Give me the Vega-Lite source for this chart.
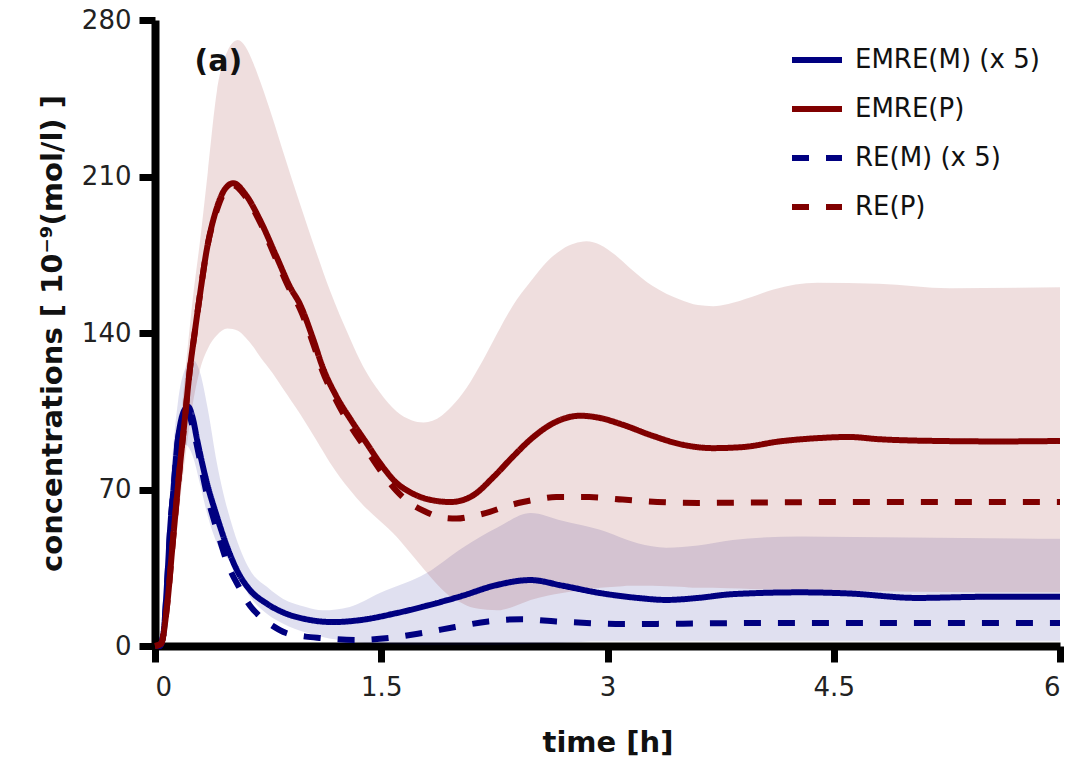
{
  "$schema": "https://vega.github.io/schema/vega-lite/v6.json",
  "autosize": "none",
  "width": 905,
  "height": 626,
  "padding": {"left": 155, "top": 20, "right": 14, "bottom": 127},
  "background": "white",
  "config": {
    "view": {"stroke": null},
    "axis": {
      "grid": false,
      "domainColor": "black",
      "domainWidth": 8,
      "tickColor": "black",
      "tickWidth": 7,
      "tickSize": 16,
      "labelFont": "DejaVu Sans",
      "labelFontSize": 26,
      "labelColor": "#222222",
      "titleFont": "DejaVu Sans",
      "titleFontSize": 29,
      "titleFontWeight": "bold",
      "titleColor": "#111111"
    },
    "legend": {
      "labelFont": "DejaVu Sans",
      "labelFontSize": 26,
      "labelColor": "#111111",
      "labelLimit": 400,
      "symbolType": "stroke",
      "symbolStrokeWidth": 6,
      "symbolSize": 2500,
      "rowPadding": 8,
      "labelOffset": 10
    }
  },
  "datasets": {
    "lines": [
      {"t":0,"v":0,"series":"EMRE(M) (x 5)"},{"t":0.03,"v":0,"series":"EMRE(M) (x 5)"},{"t":0.055,"v":5,"series":"EMRE(M) (x 5)"},{"t":0.08,"v":28,"series":"EMRE(M) (x 5)"},{"t":0.1,"v":52,"series":"EMRE(M) (x 5)"},{"t":0.125,"v":72,"series":"EMRE(M) (x 5)"},{"t":0.146,"v":89,"series":"EMRE(M) (x 5)"},{"t":0.17,"v":100,"series":"EMRE(M) (x 5)"},{"t":0.2,"v":106,"series":"EMRE(M) (x 5)"},{"t":0.22,"v":107,"series":"EMRE(M) (x 5)"},{"t":0.25,"v":102,"series":"EMRE(M) (x 5)"},{"t":0.28,"v":92,"series":"EMRE(M) (x 5)"},{"t":0.34,"v":74,"series":"EMRE(M) (x 5)"},{"t":0.41,"v":58,"series":"EMRE(M) (x 5)"},{"t":0.48,"v":44,"series":"EMRE(M) (x 5)"},{"t":0.55,"v":33,"series":"EMRE(M) (x 5)"},{"t":0.63,"v":25,"series":"EMRE(M) (x 5)"},{"t":0.74,"v":19,"series":"EMRE(M) (x 5)"},{"t":0.85,"v":15,"series":"EMRE(M) (x 5)"},{"t":1.0,"v":12,"series":"EMRE(M) (x 5)"},{"t":1.18,"v":10.7,"series":"EMRE(M) (x 5)"},{"t":1.35,"v":11.5,"series":"EMRE(M) (x 5)"},{"t":1.6,"v":14.7,"series":"EMRE(M) (x 5)"},{"t":1.8,"v":18,"series":"EMRE(M) (x 5)"},{"t":2.04,"v":22.5,"series":"EMRE(M) (x 5)"},{"t":2.25,"v":27,"series":"EMRE(M) (x 5)"},{"t":2.49,"v":29.5,"series":"EMRE(M) (x 5)"},{"t":2.7,"v":27,"series":"EMRE(M) (x 5)"},{"t":2.95,"v":23.7,"series":"EMRE(M) (x 5)"},{"t":3.2,"v":21.5,"series":"EMRE(M) (x 5)"},{"t":3.39,"v":20.6,"series":"EMRE(M) (x 5)"},{"t":3.6,"v":21.5,"series":"EMRE(M) (x 5)"},{"t":3.83,"v":23.2,"series":"EMRE(M) (x 5)"},{"t":4.28,"v":24,"series":"EMRE(M) (x 5)"},{"t":4.6,"v":23.5,"series":"EMRE(M) (x 5)"},{"t":5.05,"v":21.5,"series":"EMRE(M) (x 5)"},{"t":5.5,"v":22,"series":"EMRE(M) (x 5)"},{"t":6,"v":22,"series":"EMRE(M) (x 5)"},

      {"t":0,"v":0,"series":"RE(M) (x 5)"},{"t":0.03,"v":0,"series":"RE(M) (x 5)"},{"t":0.055,"v":5,"series":"RE(M) (x 5)"},{"t":0.08,"v":28,"series":"RE(M) (x 5)"},{"t":0.1,"v":52,"series":"RE(M) (x 5)"},{"t":0.125,"v":72,"series":"RE(M) (x 5)"},{"t":0.146,"v":89,"series":"RE(M) (x 5)"},{"t":0.17,"v":99,"series":"RE(M) (x 5)"},{"t":0.2,"v":104,"series":"RE(M) (x 5)"},{"t":0.22,"v":104,"series":"RE(M) (x 5)"},{"t":0.25,"v":98,"series":"RE(M) (x 5)"},{"t":0.28,"v":89,"series":"RE(M) (x 5)"},{"t":0.34,"v":69,"series":"RE(M) (x 5)"},{"t":0.41,"v":52,"series":"RE(M) (x 5)"},{"t":0.48,"v":37,"series":"RE(M) (x 5)"},{"t":0.56,"v":26,"series":"RE(M) (x 5)"},{"t":0.63,"v":18,"series":"RE(M) (x 5)"},{"t":0.7,"v":13,"series":"RE(M) (x 5)"},{"t":0.78,"v":9,"series":"RE(M) (x 5)"},{"t":0.87,"v":5.8,"series":"RE(M) (x 5)"},{"t":1.0,"v":4.2,"series":"RE(M) (x 5)"},{"t":1.09,"v":3.6,"series":"RE(M) (x 5)"},{"t":1.33,"v":2.7,"series":"RE(M) (x 5)"},{"t":1.55,"v":3.6,"series":"RE(M) (x 5)"},{"t":1.77,"v":5.8,"series":"RE(M) (x 5)"},{"t":1.99,"v":8.5,"series":"RE(M) (x 5)"},{"t":2.21,"v":11,"series":"RE(M) (x 5)"},{"t":2.43,"v":12,"series":"RE(M) (x 5)"},{"t":2.66,"v":11,"series":"RE(M) (x 5)"},{"t":2.9,"v":10.2,"series":"RE(M) (x 5)"},{"t":3.1,"v":9.8,"series":"RE(M) (x 5)"},{"t":3.5,"v":10,"series":"RE(M) (x 5)"},{"t":4,"v":10.3,"series":"RE(M) (x 5)"},{"t":5,"v":10.3,"series":"RE(M) (x 5)"},{"t":6,"v":10.3,"series":"RE(M) (x 5)"},

      {"t":0,"v":0,"series":"EMRE(P)"},{"t":0.04,"v":1,"series":"EMRE(P)"},{"t":0.08,"v":18,"series":"EMRE(P)"},{"t":0.12,"v":48,"series":"EMRE(P)"},{"t":0.16,"v":77,"series":"EMRE(P)"},{"t":0.2,"v":103,"series":"EMRE(P)"},{"t":0.23,"v":123,"series":"EMRE(P)"},{"t":0.265,"v":141,"series":"EMRE(P)"},{"t":0.3,"v":158,"series":"EMRE(P)"},{"t":0.34,"v":176,"series":"EMRE(P)"},{"t":0.41,"v":196,"series":"EMRE(P)"},{"t":0.46,"v":204,"series":"EMRE(P)"},{"t":0.52,"v":207,"series":"EMRE(P)"},{"t":0.6,"v":202,"series":"EMRE(P)"},{"t":0.7,"v":190,"series":"EMRE(P)"},{"t":0.8,"v":175,"series":"EMRE(P)"},{"t":0.9,"v":160,"series":"EMRE(P)"},{"t":0.96,"v":153,"series":"EMRE(P)"},{"t":1.05,"v":137,"series":"EMRE(P)"},{"t":1.11,"v":125,"series":"EMRE(P)"},{"t":1.2,"v":112,"series":"EMRE(P)"},{"t":1.3,"v":101,"series":"EMRE(P)"},{"t":1.4,"v":91,"series":"EMRE(P)"},{"t":1.49,"v":82,"series":"EMRE(P)"},{"t":1.6,"v":73,"series":"EMRE(P)"},{"t":1.7,"v":68.5,"series":"EMRE(P)"},{"t":1.8,"v":65.8,"series":"EMRE(P)"},{"t":1.96,"v":64.4,"series":"EMRE(P)"},{"t":2.1,"v":67,"series":"EMRE(P)"},{"t":2.25,"v":76,"series":"EMRE(P)"},{"t":2.37,"v":84.5,"series":"EMRE(P)"},{"t":2.5,"v":93,"series":"EMRE(P)"},{"t":2.65,"v":100,"series":"EMRE(P)"},{"t":2.82,"v":103,"series":"EMRE(P)"},{"t":2.95,"v":102,"series":"EMRE(P)"},{"t":3.1,"v":99,"series":"EMRE(P)"},{"t":3.3,"v":94,"series":"EMRE(P)"},{"t":3.5,"v":90,"series":"EMRE(P)"},{"t":3.7,"v":88.5,"series":"EMRE(P)"},{"t":3.9,"v":89,"series":"EMRE(P)"},{"t":4.14,"v":91.5,"series":"EMRE(P)"},{"t":4.4,"v":93,"series":"EMRE(P)"},{"t":4.6,"v":93.5,"series":"EMRE(P)"},{"t":4.8,"v":92.5,"series":"EMRE(P)"},{"t":5.2,"v":91.7,"series":"EMRE(P)"},{"t":5.6,"v":91.5,"series":"EMRE(P)"},{"t":6,"v":91.7,"series":"EMRE(P)"},

      {"t":0,"v":0,"series":"RE(P)"},{"t":0.04,"v":1,"series":"RE(P)"},{"t":0.08,"v":18,"series":"RE(P)"},{"t":0.12,"v":48,"series":"RE(P)"},{"t":0.16,"v":77,"series":"RE(P)"},{"t":0.2,"v":103,"series":"RE(P)"},{"t":0.23,"v":123,"series":"RE(P)"},{"t":0.265,"v":141,"series":"RE(P)"},{"t":0.3,"v":158,"series":"RE(P)"},{"t":0.34,"v":176,"series":"RE(P)"},{"t":0.41,"v":195,"series":"RE(P)"},{"t":0.46,"v":203,"series":"RE(P)"},{"t":0.52,"v":206,"series":"RE(P)"},{"t":0.6,"v":201,"series":"RE(P)"},{"t":0.7,"v":189,"series":"RE(P)"},{"t":0.8,"v":173.5,"series":"RE(P)"},{"t":0.9,"v":158.5,"series":"RE(P)"},{"t":0.96,"v":151,"series":"RE(P)"},{"t":1.05,"v":135,"series":"RE(P)"},{"t":1.11,"v":123,"series":"RE(P)"},{"t":1.2,"v":110,"series":"RE(P)"},{"t":1.3,"v":98,"series":"RE(P)"},{"t":1.4,"v":88,"series":"RE(P)"},{"t":1.5,"v":78,"series":"RE(P)"},{"t":1.6,"v":69.5,"series":"RE(P)"},{"t":1.7,"v":63.5,"series":"RE(P)"},{"t":1.78,"v":60.5,"series":"RE(P)"},{"t":1.9,"v":57.5,"series":"RE(P)"},{"t":2.0,"v":57,"series":"RE(P)"},{"t":2.1,"v":58,"series":"RE(P)"},{"t":2.22,"v":60,"series":"RE(P)"},{"t":2.33,"v":62.5,"series":"RE(P)"},{"t":2.44,"v":64.4,"series":"RE(P)"},{"t":2.55,"v":65.8,"series":"RE(P)"},{"t":2.66,"v":66.6,"series":"RE(P)"},{"t":2.88,"v":66.6,"series":"RE(P)"},{"t":3.1,"v":65.5,"series":"RE(P)"},{"t":3.33,"v":64.4,"series":"RE(P)"},{"t":3.6,"v":64,"series":"RE(P)"},{"t":4,"v":64.2,"series":"RE(P)"},{"t":4.5,"v":64.4,"series":"RE(P)"},{"t":5,"v":64.4,"series":"RE(P)"},{"t":6,"v":64.4,"series":"RE(P)"}
    ],
    "bands": [
      {"band":"P","t":0,"lo":0,"hi":0},{"band":"P","t":0.05,"lo":0,"hi":4},{"band":"P","t":0.1,"lo":24,"hi":46},{"band":"P","t":0.15,"lo":55,"hi":86},{"band":"P","t":0.2,"lo":84,"hi":122},{"band":"P","t":0.25,"lo":108,"hi":155},{"band":"P","t":0.3,"lo":124,"hi":182},{"band":"P","t":0.35,"lo":133,"hi":212},{"band":"P","t":0.41,"lo":139,"hi":248},{"band":"P","t":0.48,"lo":142,"hi":266},{"band":"P","t":0.55,"lo":141,"hi":271},{"band":"P","t":0.6,"lo":138,"hi":268},{"band":"P","t":0.65,"lo":134,"hi":261},{"band":"P","t":0.7,"lo":129,"hi":252},{"band":"P","t":0.78,"lo":122,"hi":236},{"band":"P","t":0.85,"lo":115,"hi":221},{"band":"P","t":0.96,"lo":104,"hi":198},{"band":"P","t":1.07,"lo":92,"hi":176},{"band":"P","t":1.16,"lo":82,"hi":159},{"band":"P","t":1.29,"lo":70,"hi":138},{"band":"P","t":1.38,"lo":63,"hi":125},{"band":"P","t":1.49,"lo":56,"hi":113.5},{"band":"P","t":1.6,"lo":49,"hi":105},{"band":"P","t":1.7,"lo":41,"hi":101},{"band":"P","t":1.78,"lo":34.5,"hi":100},{"band":"P","t":1.9,"lo":25.5,"hi":103},{"band":"P","t":1.95,"lo":22.5,"hi":106},{"band":"P","t":2.04,"lo":19,"hi":113},{"band":"P","t":2.09,"lo":17.4,"hi":118},{"band":"P","t":2.2,"lo":16.2,"hi":131},{"band":"P","t":2.27,"lo":16,"hi":140},{"band":"P","t":2.37,"lo":17.5,"hi":152},{"band":"P","t":2.49,"lo":20.6,"hi":163},{"band":"P","t":2.6,"lo":22.5,"hi":172},{"band":"P","t":2.7,"lo":23.7,"hi":177.5},{"band":"P","t":2.78,"lo":24.5,"hi":180},{"band":"P","t":2.86,"lo":25,"hi":181},{"band":"P","t":2.95,"lo":26,"hi":179.5},{"band":"P","t":3.05,"lo":26.5,"hi":175},{"band":"P","t":3.15,"lo":27,"hi":169},{"band":"P","t":3.3,"lo":27,"hi":161},{"band":"P","t":3.48,"lo":26.5,"hi":155},{"band":"P","t":3.6,"lo":26,"hi":152.5},{"band":"P","t":3.7,"lo":26,"hi":152},{"band":"P","t":3.8,"lo":25.8,"hi":153},{"band":"P","t":3.95,"lo":25.5,"hi":156},{"band":"P","t":4.1,"lo":25.2,"hi":159.5},{"band":"P","t":4.39,"lo":25,"hi":162.5},{"band":"P","t":4.8,"lo":24.5,"hi":162},{"band":"P","t":5.27,"lo":24.2,"hi":160},{"band":"P","t":6,"lo":24,"hi":160.5},

      {"band":"M","t":0,"lo":0,"hi":0},{"band":"M","t":0.05,"lo":0,"hi":8},{"band":"M","t":0.08,"lo":10,"hi":40},{"band":"M","t":0.1,"lo":30,"hi":68},{"band":"M","t":0.15,"lo":68,"hi":108},{"band":"M","t":0.2,"lo":90,"hi":124},{"band":"M","t":0.25,"lo":85,"hi":128},{"band":"M","t":0.3,"lo":72,"hi":122},{"band":"M","t":0.35,"lo":58,"hi":106},{"band":"M","t":0.41,"lo":46,"hi":82},{"band":"M","t":0.52,"lo":36,"hi":52},{"band":"M","t":0.63,"lo":22,"hi":34},{"band":"M","t":0.75,"lo":14,"hi":26},{"band":"M","t":0.85,"lo":10,"hi":21},{"band":"M","t":1.0,"lo":6,"hi":17.5},{"band":"M","t":1.11,"lo":4,"hi":16},{"band":"M","t":1.29,"lo":2,"hi":17.5},{"band":"M","t":1.49,"lo":1,"hi":23.7},{"band":"M","t":1.8,"lo":0.5,"hi":32.6},{"band":"M","t":2.04,"lo":0.5,"hi":44},{"band":"M","t":2.27,"lo":0.5,"hi":53},{"band":"M","t":2.49,"lo":1,"hi":59.5},{"band":"M","t":2.7,"lo":1.5,"hi":56},{"band":"M","t":2.95,"lo":2,"hi":52},{"band":"M","t":3.2,"lo":2,"hi":46},{"band":"M","t":3.39,"lo":2,"hi":44},{"band":"M","t":3.6,"lo":2,"hi":45},{"band":"M","t":3.83,"lo":2,"hi":47.4},{"band":"M","t":4.28,"lo":2,"hi":49},{"band":"M","t":5,"lo":2,"hi":48.5},{"band":"M","t":6,"lo":2,"hi":48}
    ],
    "label": [{"t":0.42,"v":261,"text":"(a)"}]
  },
  "layer": [
    {
      "data": {"name": "bands"},
      "transform": [{"filter": "datum.band === 'M'"}],
      "mark": {"type": "area", "fill": "#000080", "fillOpacity": 0.12, "interpolate": "monotone"},
      "encoding": {
        "x": {"field": "t", "type": "quantitative", "scale": {"domain": [0, 6], "nice": false},
              "axis": {"values": [0, 1.5, 3, 4.5, 6], "format": "~f", "title": "time [h]", "labelPadding": 12, "titlePadding": 28,
                       "domainWidth": 8, "tickWidth": 7, "tickSize": 16, "domainColor": "black", "tickColor": "black"}},
        "y": {"field": "hi", "type": "quantitative", "scale": {"domain": [0, 280], "nice": false},
              "axis": {"values": [0, 70, 140, 210, 280], "title": "concentrations [ 10⁻⁹(mol/l) ]", "labelPadding": 8, "titlePadding": 14,
                       "domainWidth": 8, "tickWidth": 7, "tickSize": 16, "domainColor": "black", "tickColor": "black"}},
        "y2": {"field": "lo"}
      }
    },
    {
      "data": {"name": "bands"},
      "transform": [{"filter": "datum.band === 'P'"}],
      "mark": {"type": "area", "fill": "#800000", "fillOpacity": 0.13, "interpolate": "monotone"},
      "encoding": {
        "x": {"field": "t", "type": "quantitative"},
        "y": {"field": "hi", "type": "quantitative"},
        "y2": {"field": "lo"}
      }
    },
    {
      "data": {"name": "lines"},
      "transform": [{"filter": "indexof(datum.series, '(M)') >= 0"}],
      "mark": {"type": "line", "strokeWidth": 6, "interpolate": "monotone", "strokeCap": "butt"},
      "encoding": {
        "x": {"field": "t", "type": "quantitative"},
        "y": {"field": "v", "type": "quantitative"},
        "color": {"field": "series", "type": "nominal", "scale": {"domain": ["EMRE(M) (x 5)", "EMRE(P)", "RE(M) (x 5)", "RE(P)"], "range": ["#000080", "#800000", "#000080", "#800000"]}, "legend": {"title": null, "orient": "none", "legendX": 634, "legendY": 12}},
        "strokeDash": {"field": "series", "type": "nominal", "scale": {"domain": ["EMRE(M) (x 5)", "EMRE(P)", "RE(M) (x 5)", "RE(P)"], "range": [[1, 0], [1, 0], [17, 17], [17, 17]]}, "legend": {"title": null, "orient": "none", "legendX": 634, "legendY": 12}}
      }
    },
    {
      "data": {"name": "lines"},
      "transform": [{"filter": "indexof(datum.series, '(P)') >= 0"}],
      "mark": {"type": "line", "strokeWidth": 6, "interpolate": "monotone", "strokeCap": "butt"},
      "encoding": {
        "x": {"field": "t", "type": "quantitative"},
        "y": {"field": "v", "type": "quantitative"},
        "color": {"field": "series", "type": "nominal"},
        "strokeDash": {"field": "series", "type": "nominal"}
      }
    },
    {
      "data": {"name": "label"},
      "mark": {"type": "text", "font": "DejaVu Sans", "fontSize": 30, "fontWeight": "bold", "color": "#111111"},
      "encoding": {
        "x": {"field": "t", "type": "quantitative"},
        "y": {"field": "v", "type": "quantitative"},
        "text": {"field": "text"}
      }
    }
  ]
}
